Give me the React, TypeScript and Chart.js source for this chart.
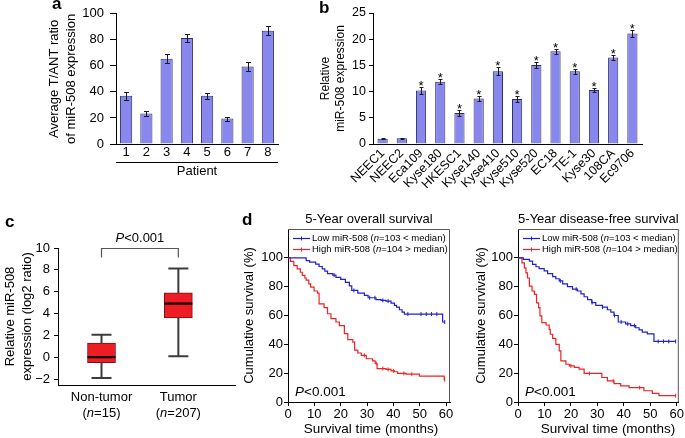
import React, { useEffect, useRef } from 'react';
import { Chart, registerables } from 'chart.js';

Chart.register(...registerables);

const FAMILY = '"Liberation Sans", Arial, Helvetica, sans-serif';
Chart.defaults.font.family = FAMILY;
Chart.defaults.color = '#000';

// ---------- Panel a ----------
const patients = ['1', '2', '3', '4', '5', '6', '7', '8'];
const ratioValues = [37, 23.5, 65.5, 81.5, 37, 19.5, 59.5, 87];
const ratioErrors = [3, 2, 3.5, 3, 2.5, 1.5, 3.5, 3.5];
const ratioTicks = [0, 20, 40, 60, 80, 100];

// ---------- Panel b ----------
const cellLines = ['NEEC1', 'NEEC2', 'Eca109', 'Kyse180', 'HKESC1', 'Kyse140', 'Kyse410', 'Kyse510', 'Kyse520', 'EC18', 'TE-1', 'Kyse30', '108CA', 'Ec9706'];
const cellValues = [1.0, 1.1, 10.2, 11.9, 5.9, 8.7, 13.9, 8.6, 15.1, 17.7, 13.9, 10.3, 16.5, 21.1];
const cellErrors = [0.1, 0.1, 0.7, 0.5, 0.6, 0.4, 0.8, 0.5, 0.6, 0.5, 0.5, 0.3, 0.5, 0.7];
const cellSignificant = [false, false, true, true, true, true, true, true, true, true, true, true, true, true];
const cellTicks = [0, 5, 10, 15, 20, 25];

// ---------- Panel c ----------
const groups = ['Non-tumor', 'Tumor'];
const groupN = [15, 207];
const boxMin = [-1.85, 0.13];
const boxQ1 = [-0.47, 3.61];
const boxMedian = [0.04, 4.93];
const boxQ3 = [1.32, 5.9];
const boxMax = [2.09, 8.14];
const boxTicks = [-2, 0, 2, 4, 6, 8, 10];

// ---------- Panel d : 5-year overall survival ----------
const osLowTimes = [0, 6.9, 8.2, 10.5, 11.8, 13, 14, 15, 17, 18.2, 20, 21.8, 23.3, 24.2, 26.5, 29, 30.4, 33.4, 35.3, 37.2, 39.1, 40.4, 41.2, 42.3, 43.3, 44.2, 58.7, 59.5];
const osLowSurvival = [100, 98, 97, 95.6, 94, 92.4, 90.8, 89, 88, 86.5, 85, 83, 80.6, 77.4, 75.5, 74, 72.3, 71, 70.5, 70, 68.6, 67, 65.8, 64, 62.4, 61, 55.5, 55.5];
const osLowCensored = [17.5, 25, 31, 33, 36, 38, 45.5, 50.5, 52.5, 54.5, 56.5, 59.5];
const osHighTimes = [0, 0.9, 2.2, 3.5, 4.7, 5.4, 6.4, 6.9, 7.9, 8.6, 9.9, 11.2, 11.8, 13.7, 15, 16.3, 18.2, 19.5, 21.4, 22.7, 24.6, 25.3, 26.5, 27.8, 29.7, 32.1, 33.1, 33.8, 37.2, 39.1, 40.4, 41.6, 44.8, 49.9, 59.3, 59.5];
const osHighSurvival = [100, 97.5, 94.6, 92.4, 90, 87.8, 86, 84.5, 82, 79.7, 77, 75.5, 68, 65.4, 61.2, 57.8, 55.5, 53, 47.4, 43.2, 41.6, 36, 34, 32.4, 30, 28.5, 26.7, 23.2, 22.6, 21.6, 21, 19.8, 19.3, 17.9, 15.5, 15.5];
const osHighCensored = [29, 33.5, 36, 38, 40, 44, 47, 59.5];

// ---------- Panel d : 5-year disease-free survival ----------
const dfsLowTimes = [0, 2, 4.3, 5.5, 6.8, 8, 9.9, 11.2, 13.1, 14.3, 15.6, 16.9, 18.7, 20.6, 22.5, 23.8, 25, 26.3, 27.9, 29.4, 31.9, 33.8, 35.1, 36.3, 37.9, 40.7, 42.6, 44.5, 45.8, 47, 48.9, 51.4, 59.6];
const dfsLowSurvival = [100, 99, 97.7, 95.4, 93.8, 92.5, 91, 89, 87, 85.5, 84, 82, 80, 78.3, 77, 75, 73, 71, 69, 67, 65.8, 64, 62.4, 60, 55.5, 54.2, 53, 51.5, 50, 48.5, 47.3, 42, 42];
const dfsLowCensored = [16, 22, 28, 32, 36.5, 39, 41.5, 44, 53, 55, 57, 59.6];
const dfsHighTimes = [0, 1.5, 2.4, 3, 3.6, 4.3, 5.3, 6.2, 7, 7.8, 8.3, 9, 10.6, 11.8, 12.2, 13.1, 14.3, 15.6, 16.2, 18.1, 19.4, 21.3, 23.1, 25, 31.7, 33.8, 36.3, 38.8, 42, 47.6, 50.8, 53.3, 59.6];
const dfsHighSurvival = [100, 96.5, 93, 89.6, 86, 80.4, 77, 74.6, 68.8, 65.4, 59.7, 55, 53.4, 50.4, 47, 44.1, 40, 35.4, 28.5, 26.2, 25.1, 24, 22.8, 19.8, 17, 14.7, 12.8, 11.2, 10, 7.8, 6, 4.4, 4.4];
const dfsHighCensored = [20, 27, 36, 46, 59.6];

const survivalYTicks = [0, 20, 40, 60, 80, 100];
const survivalXTicks = [0, 10, 20, 30, 40, 50, 60];

// ---------- styles ----------
const BAR_FILL = '#8787ee';
const BAR_EDGE = '#2e2e66';
const BOX_FILL = '#ee1c24';
const BOX_EDGE = '#7a1010';
const LOW_COLOR = '#2020cc';
const HIGH_COLOR = '#ee2222';

type Seg = { t: string; i?: boolean };

function fontStr(size: number, italic = false, bold = false) {
  return `${italic ? 'italic ' : ''}${bold ? 'bold ' : ''}${size}px ${FAMILY}`;
}

function drawRich(ctx: CanvasRenderingContext2D, segs: Seg[], x: number, y: number, size: number, align: 'left' | 'center' | 'right', color = '#000') {
  ctx.save();
  ctx.textBaseline = 'middle';
  ctx.textAlign = 'left';
  ctx.fillStyle = color;
  const widths = segs.map((s) => {
    ctx.font = fontStr(size, !!s.i);
    return ctx.measureText(s.t).width;
  });
  const total = widths.reduce((a, b) => a + b, 0);
  let cx = align === 'left' ? x : align === 'center' ? x - total / 2 : x - total;
  segs.forEach((s, k) => {
    ctx.font = fontStr(size, !!s.i);
    ctx.fillText(s.t, cx, y);
    cx += widths[k];
  });
  ctx.restore();
}

function drawLetter(ctx: CanvasRenderingContext2D, letter: string, x: number, y: number) {
  ctx.save();
  ctx.font = fontStr(17, false, true);
  ctx.fillStyle = '#000';
  ctx.textAlign = 'left';
  ctx.textBaseline = 'alphabetic';
  ctx.fillText(letter, x, y);
  ctx.restore();
}

function base(padding: any) {
  return {
    responsive: false,
    maintainAspectRatio: false,
    animation: false,
    devicePixelRatio: 1,
    events: [],
    layout: { padding },
    plugins: { legend: { display: false }, tooltip: { enabled: false }, title: { display: false } },
  };
}

function errorBars(values: number[], errors: number[], cap: number) {
  return {
    id: 'errorBars',
    afterDatasetsDraw(chart: any) {
      const meta = chart.getDatasetMeta(0);
      const ys = chart.scales.y;
      const ctx = chart.ctx;
      ctx.save();
      ctx.strokeStyle = '#1a1a2a';
      ctx.lineWidth = 1;
      values.forEach((v, i) => {
        const el = meta.data[i];
        const x = Math.round(el.x) + 0.5;
        const top = Math.round(ys.getPixelForValue(v + errors[i])) + 0.5;
        const bot = Math.round(ys.getPixelForValue(v - errors[i])) + 0.5;
        ctx.beginPath();
        ctx.moveTo(x, top);
        ctx.lineTo(x, bot);
        ctx.moveTo(x - cap, top);
        ctx.lineTo(x + cap, top);
        ctx.moveTo(x - cap, bot);
        ctx.lineTo(x + cap, bot);
        ctx.stroke();
      });
      ctx.restore();
    },
  };
}

// ---------- Panel a ----------
function makeA() {
  return {
    type: 'bar',
    data: {
      labels: patients,
      datasets: [{ label: 'Average T/ANT ratio', data: ratioValues, backgroundColor: BAR_FILL, borderColor: BAR_EDGE, borderWidth: 1, barPercentage: 0.6, categoryPercentage: 1 }],
    },
    options: {
      ...base({ left: 0, top: 13, right: 12, bottom: 0 }),
      scales: {
        x: {
          grid: { display: false, drawTicks: false },
          border: { display: true, color: '#000', width: 1 },
          ticks: { font: { size: 13 }, color: '#000', padding: 1, autoSkip: false, maxRotation: 0 },
          title: { display: true, text: 'Patient', font: { size: 13 }, color: '#000', padding: { top: 0, bottom: 6 } },
          afterFit: (s: any) => { s.height = 41; },
        },
        y: {
          min: 0,
          max: 100,
          afterBuildTicks: (s: any) => { s.ticks = ratioTicks.map((v) => ({ value: v })); },
          ticks: { font: { size: 13 }, color: '#000', padding: 6 },
          grid: { display: true, drawOnChartArea: false, drawTicks: true, tickLength: 6, color: '#000', lineWidth: 1 },
          border: { display: true, color: '#000', width: 1 },
          title: { display: true, text: ['Average T/ANT ratio', 'of miR-508 expression'], font: { size: 13, lineHeight: 1.3 }, color: '#000', padding: { top: 0, bottom: 0 } },
          afterFit: (s: any) => { s.width = 70; },
        },
      },
    },
    plugins: [
      errorBars(ratioValues, ratioErrors, 2.5),
      {
        id: 'panelA',
        afterDraw(chart: any) {
          const { ctx, chartArea } = chart;
          ctx.save();
          ctx.strokeStyle = '#000';
          ctx.lineWidth = 1;
          ctx.beginPath();
          ctx.moveTo(chartArea.left, chartArea.bottom + 18.5);
          ctx.lineTo(chartArea.right, chartArea.bottom + 18.5);
          ctx.stroke();
          ctx.restore();
          drawLetter(ctx, 'a', 6, 9);
        },
      },
    ],
  };
}

// ---------- Panel b ----------
function makeB() {
  return {
    type: 'bar',
    data: {
      labels: cellLines,
      datasets: [{ label: 'Relative miR-508 expression', data: cellValues, backgroundColor: BAR_FILL, borderColor: BAR_EDGE, borderWidth: 1, barPercentage: 0.53, categoryPercentage: 1 }],
    },
    options: {
      ...base({ left: 0, top: 13, right: 6, bottom: 0 }),
      scales: {
        x: {
          grid: { display: false, drawTicks: false },
          border: { display: true, color: '#000', width: 1 },
          ticks: { font: { size: 12.5 }, color: '#000', padding: 2, autoSkip: false, maxRotation: 45, minRotation: 45 },
          afterFit: (s: any) => { s.height = 61; },
        },
        y: {
          min: 0,
          max: 25,
          afterBuildTicks: (s: any) => { s.ticks = cellTicks.map((v) => ({ value: v })); },
          ticks: { font: { size: 12.5 }, color: '#000', padding: 3 },
          grid: { display: true, drawOnChartArea: false, drawTicks: true, tickLength: 4, color: '#000', lineWidth: 1 },
          border: { display: true, color: '#000', width: 1 },
          title: { display: true, text: ['Relative', 'miR-508 expression'], font: { size: 12, lineHeight: 1.25 }, color: '#000', padding: { top: 0, bottom: 0 } },
          afterFit: (s: any) => { s.width = 55; },
        },
      },
    },
    plugins: [
      errorBars(cellValues, cellErrors, 2),
      {
        id: 'panelB',
        afterDraw(chart: any) {
          const { ctx } = chart;
          const meta = chart.getDatasetMeta(0);
          const ys = chart.scales.y;
          ctx.save();
          ctx.font = fontStr(13);
          ctx.fillStyle = '#000';
          ctx.textAlign = 'center';
          ctx.textBaseline = 'alphabetic';
          cellValues.forEach((v, i) => {
            if (!cellSignificant[i]) return;
            const x = meta.data[i].x;
            const y = ys.getPixelForValue(v + cellErrors[i]) - 3;
            ctx.fillText('*', x, y + 6);
          });
          ctx.restore();
          drawLetter(ctx, 'b', 1, 13);
        },
      },
    ],
  };
}

// ---------- Panel c ----------
function makeC() {
  return {
    type: 'bar',
    data: {
      datasets: [{
        label: 'Relative miR-508 expression (log2 ratio)',
        data: groups.map((g, i) => ({ x: i + 1, y: [boxQ1[i], boxQ3[i]] })),
        backgroundColor: BOX_FILL,
        borderColor: BOX_EDGE,
        borderWidth: 1,
        borderSkipped: false,
        barThickness: 28,
      }],
    },
    options: {
      ...base({ left: 0, top: 36, right: 5, bottom: 0 }),
      scales: {
        x: {
          type: 'linear',
          offset: false,
          min: 0.434,
          max: 2.737,
          afterBuildTicks: (s: any) => { s.ticks = groups.map((g, i) => ({ value: i + 1 })); },
          ticks: { display: false },
          grid: { display: false, drawTicks: false, offset: false },
          border: { display: true, color: '#000', width: 1 },
          afterFit: (s: any) => { s.height = 40; },
        },
        y: {
          min: -2.5,
          max: 10,
          afterBuildTicks: (s: any) => { s.ticks = boxTicks.map((v) => ({ value: v })); },
          ticks: { font: { size: 13 }, color: '#000', padding: 4, callback: (v: any) => (v < 0 ? `\u2212${Math.abs(v)}` : `${v}`) },
          grid: { display: true, drawOnChartArea: false, drawTicks: true, tickLength: 4, color: '#000', lineWidth: 1 },
          border: { display: true, color: '#000', width: 1 },
          title: { display: true, text: ['Relative miR-508', 'expression (log2 ratio)'], font: { size: 13, lineHeight: 1.3 }, color: '#000', padding: { top: 0, bottom: 0 } },
          afterFit: (s: any) => { s.width = 56; },
        },
      },
    },
    plugins: [
      {
        id: 'boxWhiskers',
        beforeDatasetsDraw(chart: any) {
          const { ctx } = chart;
          const xs = chart.scales.x;
          const ys = chart.scales.y;
          ctx.save();
          ctx.strokeStyle = '#3c3c3c';
          ctx.lineWidth = 2;
          groups.forEach((g, i) => {
            const x = xs.getPixelForValue(i + 1);
            const yMin = ys.getPixelForValue(boxMin[i]);
            const yMax = ys.getPixelForValue(boxMax[i]);
            const yQ1 = ys.getPixelForValue(boxQ1[i]);
            const yQ3 = ys.getPixelForValue(boxQ3[i]);
            ctx.beginPath();
            ctx.moveTo(x, yQ3);
            ctx.lineTo(x, yMax);
            ctx.moveTo(x - 10, yMax);
            ctx.lineTo(x + 10, yMax);
            ctx.moveTo(x, yQ1);
            ctx.lineTo(x, yMin);
            ctx.moveTo(x - 10, yMin);
            ctx.lineTo(x + 10, yMin);
            ctx.stroke();
          });
          ctx.restore();
        },
        afterDraw(chart: any) {
          const { ctx, chartArea } = chart;
          const xs = chart.scales.x;
          const ys = chart.scales.y;
          ctx.save();
          ctx.strokeStyle = '#000';
          ctx.lineWidth = 2.2;
          groups.forEach((g, i) => {
            const x = xs.getPixelForValue(i + 1);
            const y = ys.getPixelForValue(boxMedian[i]);
            ctx.beginPath();
            ctx.moveTo(x - 14, y);
            ctx.lineTo(x + 14, y);
            ctx.stroke();
          });
          // significance bracket
          const x1 = xs.getPixelForValue(1);
          const x2 = xs.getPixelForValue(2);
          const yb = Math.round(ys.getPixelForValue(ys.max)) + 0.5;
          ctx.strokeStyle = '#555';
          ctx.lineWidth = 1.2;
          ctx.beginPath();
          ctx.moveTo(x1, yb + 9);
          ctx.lineTo(x1, yb);
          ctx.lineTo(x2, yb);
          ctx.lineTo(x2, yb + 9);
          ctx.stroke();
          ctx.restore();
          drawRich(ctx, [{ t: 'P', i: true }, { t: '<0.001' }], (x1 + x2) / 2, yb - 10, 13, 'center');
          groups.forEach((g, i) => {
            const x = xs.getPixelForValue(i + 1);
            drawRich(ctx, [{ t: g }], x, chartArea.bottom + 12, 13, 'center');
            drawRich(ctx, [{ t: '(' }, { t: 'n', i: true }, { t: `=${groupN[i]})` }], x, chartArea.bottom + 28, 13, 'center');
          });
          drawLetter(ctx, 'c', 3, 15);
        },
      },
    ],
  };
}

// ---------- Panel d ----------
function stepAt(times: number[], surv: number[], t: number) {
  let s = surv[0];
  for (let i = 0; i < times.length; i++) if (times[i] <= t) s = surv[i];
  return s;
}

function makeKM(cfg: any) {
  const { title, lowT, lowS, lowC, highT, highS, highC, xMax, yTitlePad, xTitleOffset, letter } = cfg;
  const pts = (T: number[], S: number[]) => T.map((t, i) => ({ x: t, y: S[i] }));
  const cens = (C: number[], T: number[], S: number[]) => C.map((t) => ({ x: t, y: stepAt(T, S, t) }));
  const lowLabel: Seg[] = [{ t: 'Low miR-508 (' }, { t: 'n', i: true }, { t: '=103 < median)' }];
  const highLabel: Seg[] = [{ t: 'High miR-508 (' }, { t: 'n', i: true }, { t: '=104 > median)' }];
  return {
    type: 'line',
    data: {
      datasets: [
        { label: 'Low miR-508 (n=103 < median)', data: pts(lowT, lowS), borderColor: LOW_COLOR, borderWidth: 1.2, stepped: 'before', pointRadius: 0, fill: false },
        { label: 'High miR-508 (n=104 > median)', data: pts(highT, highS), borderColor: HIGH_COLOR, borderWidth: 1.2, stepped: 'before', pointRadius: 0, fill: false },
        { label: 'Low censored', data: cens(lowC, lowT, lowS), showLine: false, pointStyle: 'line', rotation: 90, pointRadius: 2, pointBorderColor: LOW_COLOR, pointBorderWidth: 1, borderColor: LOW_COLOR },
        { label: 'High censored', data: cens(highC, highT, highS), showLine: false, pointStyle: 'line', rotation: 90, pointRadius: 2, pointBorderColor: HIGH_COLOR, pointBorderWidth: 1, borderColor: HIGH_COLOR },
      ],
    },
    options: {
      ...base({ left: 0, top: 21, right: cfg.padRight, bottom: 0 }),
      scales: {
        x: {
          type: 'linear',
          min: 0,
          max: xMax,
          afterBuildTicks: (s: any) => { s.ticks = survivalXTicks.map((v) => ({ value: v })); },
          ticks: { font: { size: 13 }, color: '#000', padding: 1, maxRotation: 0 },
          grid: { display: true, drawOnChartArea: false, drawTicks: true, tickLength: 4, color: '#000', lineWidth: 1 },
          border: { display: true, color: '#000', width: 1 },
          afterFit: (s: any) => { s.height = 36; },
        },
        y: {
          min: 0,
          max: 120,
          afterBuildTicks: (s: any) => { s.ticks = survivalYTicks.map((v) => ({ value: v })); },
          ticks: { font: { size: 13 }, color: '#000', padding: 1 },
          grid: { display: true, drawOnChartArea: false, drawTicks: true, tickLength: 4, color: '#000', lineWidth: 1 },
          border: { display: true, color: '#000', width: 1 },
          title: { display: true, text: 'Cumulative survival (%)', font: { size: 13 }, color: '#000', padding: { top: yTitlePad, bottom: 0 } },
          afterFit: (s: any) => { s.width = 50; },
        },
      },
    },
    plugins: [
      {
        id: 'kmDecor',
        beforeDatasetsDraw(chart: any) {
          const { ctx, chartArea } = chart;
          ctx.save();
          ctx.strokeStyle = '#555';
          ctx.lineWidth = 1;
          ctx.beginPath();
          ctx.moveTo(chartArea.left, chartArea.top + 0.5);
          ctx.lineTo(chartArea.right - 0.5, chartArea.top + 0.5);
          ctx.lineTo(chartArea.right - 0.5, chartArea.bottom);
          ctx.stroke();
          ctx.restore();
        },
        afterDraw(chart: any) {
          const { ctx, chartArea } = chart;
          const { left, top, bottom } = chartArea;
          const rows = [{ color: LOW_COLOR, segs: lowLabel }, { color: HIGH_COLOR, segs: highLabel }];
          rows.forEach((r, k) => {
            const y = top + 9.5 + k * 11;
            ctx.save();
            ctx.strokeStyle = r.color;
            ctx.lineWidth = 1.2;
            ctx.beginPath();
            ctx.moveTo(left + 5, y);
            ctx.lineTo(left + 22, y);
            ctx.stroke();
            ctx.lineWidth = 1;
            ctx.beginPath();
            ctx.moveTo(left + 13.5, y - 2);
            ctx.lineTo(left + 13.5, y + 2);
            ctx.stroke();
            ctx.restore();
            drawRich(ctx, r.segs, left + 24, y, 9.5, 'left');
          });
          drawRich(ctx, [{ t: title }], (chartArea.left + chartArea.right) / 2, top - 10, 13, 'center');
          drawRich(ctx, [{ t: 'P', i: true }, { t: '<0.001' }], left + 7, bottom - 10, 13.5, 'left');
          drawRich(ctx, [{ t: 'Survival time (months)' }], left + xTitleOffset, bottom + 27, 13.5, 'center');
          if (letter) drawLetter(ctx, letter, 4, 17);
        },
      },
    ],
  };
}

const makeOS = () => makeKM({
  title: '5-Year overall survival',
  lowT: osLowTimes, lowS: osLowSurvival, lowC: osLowCensored,
  highT: osHighTimes, highS: osHighSurvival, highC: osHighCensored,
  xMax: 61.5, yTitlePad: 4, xTitleOffset: 83, padRight: 7, letter: 'd',
});

const makeDFS = () => makeKM({
  title: '5-Year disease-free survival',
  lowT: dfsLowTimes, lowS: dfsLowSurvival, lowC: dfsLowCensored,
  highT: dfsHighTimes, highS: dfsHighSurvival, highC: dfsHighCensored,
  xMax: 60.8, yTitlePad: 6, xTitleOffset: 90, padRight: 6, letter: '',
});

function ChartCanvas({ left, top, width, height, make }: { left: number; top: number; width: number; height: number; make: () => any }) {
  const ref = useRef<HTMLCanvasElement | null>(null);
  useEffect(() => {
    if (!ref.current) return;
    const chart = new Chart(ref.current, make());
    return () => chart.destroy();
  }, [make]);
  return (
    <canvas
      ref={ref}
      width={width}
      height={height}
      style={{ position: 'absolute', left, top, width, height, display: 'block' }}
    />
  );
}

export default function App() {
  return (
    <div style={{ position: 'absolute', left: 0, top: 0, width: 685, height: 438, background: '#fff', overflow: 'hidden' }}>
      <ChartCanvas left={46} top={0} width={244} height={185} make={makeA} />
      <ChartCanvas left={318} top={0} width={330} height={205} make={makeB} />
      <ChartCanvas left={2} top={212} width={238} height={213} make={makeC} />
      <ChartCanvas left={238} top={208} width={219} height={230} make={makeOS} />
      <ChartCanvas left={468} top={208} width={217} height={230} make={makeDFS} />
    </div>
  );
}
